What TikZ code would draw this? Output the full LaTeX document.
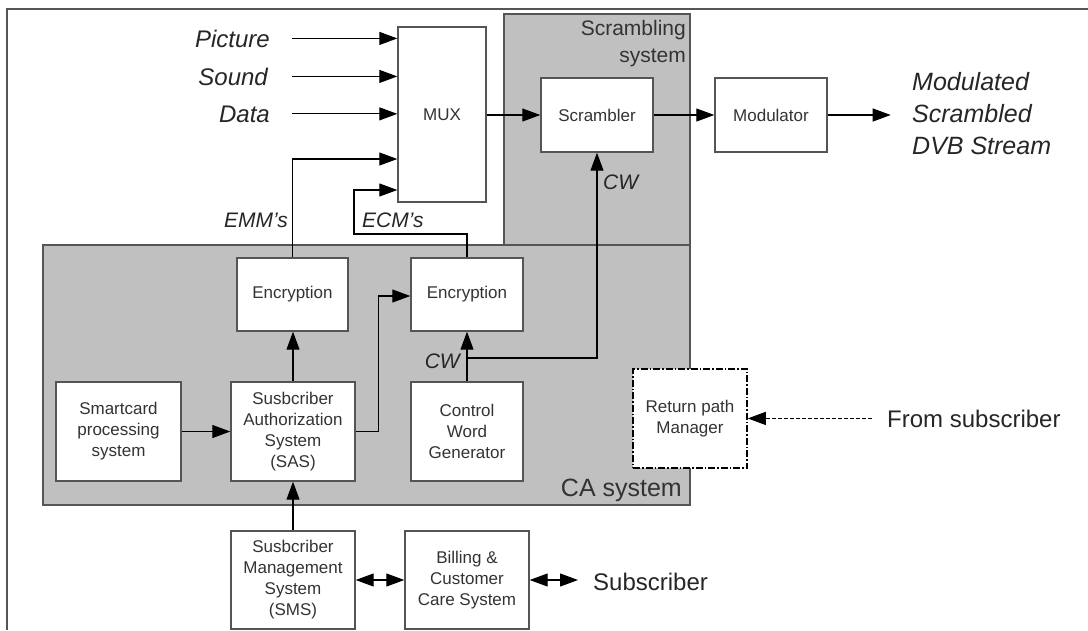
\documentclass[tikz,border=0pt]{standalone}
\usepackage{fontspec}
\setmainfont{Liberation Sans}
\usetikzlibrary{arrows.meta,calc}
\definecolor{cagray}{HTML}{C0C0C0}
\definecolor{edge}{HTML}{555555}
\definecolor{ink}{HTML}{333333}
\begin{document}
\begin{tikzpicture}[x=1pt,y=-1pt,
  blk/.style={draw=edge,line width=1.4pt,fill=white,inner sep=0pt,align=center,
    text=ink,font=\fontsize{17}{21}\selectfont},
  zone/.style={draw=edge,line width=1.3pt,fill=cagray},
  conn/.style={draw=black,line width=1.1pt},
  arr/.style={conn,-{Triangle[length=18pt,width=13pt]}},
  biarr/.style={conn,{Triangle[length=18pt,width=13pt]}-{Triangle[length=18pt,width=13pt]}},
  lbl/.style={inner sep=0pt,font=\fontsize{21}{25}\selectfont\itshape,text=black!85},
  srclbl/.style={inner sep=0pt,font=\fontsize{24}{30}\selectfont\itshape,text=black!85},
  biglbl/.style={inner sep=0pt,font=\fontsize{24}{30}\selectfont,text=black!85},
]
\useasboundingbox (0,0) rectangle (1088,630);
\fill[white] (0,0) rectangle (1088,630);
% outer frame (top and left edges only)
\draw[edge,line width=1.5pt] (7,630) -- (7,9) -- (1088,9);

% shaded system areas
\path[zone] (43,245) rectangle (690,505);
\path[zone] (504,14) rectangle (690,245);
\node[inner sep=0pt,anchor=north east,align=right,text=ink,
  font=\fontsize{21}{27}\selectfont] (scrlbl) at (686,20) {Scrambling\\system};
\node[biglbl,anchor=base east,text=ink,font=\fontsize{25}{30}\selectfont] (calbl) at (682,496) {CA system};

% blocks
\node[blk,minimum width=88pt,minimum height=175pt] (mux) at (442,114.5) {MUX};
\node[blk,minimum width=112pt,minimum height=74pt] (scr) at (597,115) {Scrambler};
\node[blk,minimum width=112pt,minimum height=74pt] (mod) at (771,115) {Modulator};
\node[blk,minimum width=111pt,minimum height=73pt] (enc1) at (292.5,294.5) {Encryption};
\node[blk,minimum width=112pt,minimum height=73pt] (enc2) at (467,294.5) {Encryption};
\node[blk,minimum width=125pt,minimum height=99pt] (sc) at (118.5,431.5) {Smartcard\\processing\\system};
\node[blk,minimum width=124pt,minimum height=99pt] (sas) at (293,431.5) {Susbcriber\\Authorization\\System\\(SAS)};
\node[blk,minimum width=112pt,minimum height=99pt] (cwg) at (467,431.5) {Control\\Word\\Generator};
\node[blk,minimum width=114pt,minimum height=99pt,draw=black,line width=1.5pt,
  dash pattern=on 7pt off 2pt on 1.5pt off 2pt] (ret) at (690,418.5) {Return path\\Manager};
\node[blk,minimum width=124pt,minimum height=98pt] (sms) at (293,580) {Susbcriber\\Management\\System\\(SMS)};
\node[blk,minimum width=124pt,minimum height=98pt] (bill) at (467,580) {Billing \&\\Customer\\Care System};

% inputs and outputs
\node[srclbl,anchor=base east] (pic) at (270,47) {Picture};
\node[srclbl,anchor=base east] (snd) at (268,85) {Sound};
\node[srclbl,anchor=base east] (dat) at (270,122) {Data};
\node[inner sep=0pt,anchor=north west,align=left,text=black!85,
  font=\fontsize{25}{32}\selectfont\itshape] (out) at (912,72) {Modulated\\Scrambled\\DVB Stream};
\node[biglbl,anchor=base west] (fromsub) at (887,427) {From subscriber};
\node[biglbl,anchor=base west] (subs) at (593,590) {Subscriber};

% connector labels
\node[lbl,anchor=base east] (emm) at (288,227) {EMM's};
\node[lbl,anchor=base west] (ecm) at (362,227) {ECM's};
\node[lbl,anchor=base west] (cw1) at (603,189) {CW};
\node[lbl,anchor=base east] (cw2) at (460,368) {CW};

% connectors
\draw[arr] ([xshift=22pt]pic.east) -- (pic.east -| mux.west);
\draw[arr] ([xshift=24pt]snd.east) -- (snd.east -| mux.west);
\draw[arr] ([xshift=22pt]dat.east) -- (dat.east -| mux.west);
\draw[arr] (enc1.north) |- ([yshift=-44.5pt]mux.west);
\coordinate (ecmturn) at (354,234);
\draw[arr] (enc2.north) |- (ecmturn) |- ([yshift=-75.5pt]mux.west);
\draw[arr] (mux.east |- scr.west) -- (scr.west);
\draw[arr] (scr.east) -- (mod.west);
\draw[arr] (mod.east) -- ++(63,0);
\draw[arr] (sc.east) -- (sas.west);
\draw[arr] (sas.north) -- (sas.north |- enc1.south);
\draw[arr] (sas.east) -- ++(23,0) |- ([yshift=-1.5pt]enc2.west);
\draw[arr] (cwg.north) -- (enc2.south);
\coordinate (cwsplit) at (467,358);
\draw[arr] (cwsplit) -| (scr.south);
\draw[arr,dash pattern=on 4pt off 2pt] ([xshift=-15pt]fromsub.west) -- (fromsub.west -| ret.east);
\draw[arr] (sms.north) -- (sas.south);
\draw[biarr] (sms.east) -- (bill.west);
\draw[biarr] (bill.east) -- ([xshift=-15pt]bill.east -| subs.west);
\end{tikzpicture}
\end{document}
